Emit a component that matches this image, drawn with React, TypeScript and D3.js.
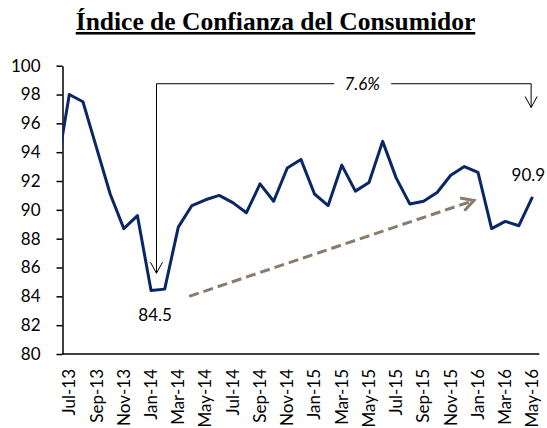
import React, { useEffect, useRef } from 'react';
import * as d3 from 'd3';

// monthly index values (Jun-13 sits left of the axis and gets clipped)
const months = [
  'Jun-13', 'Jul-13', 'Aug-13', 'Sep-13', 'Oct-13', 'Nov-13', 'Dec-13',
  'Jan-14', 'Feb-14', 'Mar-14', 'Apr-14', 'May-14', 'Jun-14', 'Jul-14', 'Aug-14', 'Sep-14', 'Oct-14', 'Nov-14', 'Dec-14',
  'Jan-15', 'Feb-15', 'Mar-15', 'Apr-15', 'May-15', 'Jun-15', 'Jul-15', 'Aug-15', 'Sep-15', 'Oct-15', 'Nov-15', 'Dec-15',
  'Jan-16', 'Feb-16', 'Mar-16', 'Apr-16', 'May-16',
];
const values = [
  92.3, 98.0, 97.5, 94.3, 91.1, 88.7, 89.6,
  84.4, 84.5, 88.8, 90.3, 90.7, 91.0, 90.5, 89.8, 91.8, 90.6, 92.9, 93.5,
  91.1, 90.3, 93.1, 91.3, 91.9, 94.75, 92.2, 90.4, 90.6, 91.2, 92.4, 93.0,
  92.6, 88.7, 89.2, 88.9, 90.9,
];
const xTickLabels = [
  'Jul-13', 'Sep-13', 'Nov-13', 'Jan-14', 'Mar-14', 'May-14', 'Jul-14', 'Sep-14', 'Nov-14',
  'Jan-15', 'Mar-15', 'May-15', 'Jul-15', 'Sep-15', 'Nov-15', 'Jan-16', 'Mar-16', 'May-16',
];
const yTicks = [80, 82, 84, 86, 88, 90, 92, 94, 96, 98, 100];

// annotations, in data units (month index, index value)
const change = { from: 7.4, to: 34.9, top: 98.75, fromTip: 85.6, toTip: 97.1, label: '7.6%', at: 22.35 };
const trend = { x1: 9.8, y1: 84.0, x2: 30.7, y2: 90.65 };
const pointLabels = [
  { text: '84.5', x: 7.3, y: 82.3 },
  { text: '90.9', x: 34.7, y: 92.0 },
];

const W = 547;
const H = 428;
const numFont = 'Lato, "Open Sans", sans-serif';

export default function App() {
  const ref = useRef<SVGSVGElement>(null);

  useEffect(() => {
    const svg = d3.select(ref.current);
    svg.selectAll('*').remove();

    const x = d3.scaleLinear().domain([0.5, 35.5]).range([62.5, 539.3]);
    const y = d3.scaleLinear().domain([80, 100]).range([354, 65.7]);

    svg.append('rect').attr('width', W).attr('height', H).attr('fill', '#fff');

    svg
      .append('text')
      .attr('x', 275.5)
      .attr('y', 30)
      .attr('text-anchor', 'middle')
      .attr('font-family', '"Liberation Serif", "Times New Roman", serif')
      .attr('font-weight', 'bold')
      .attr('font-size', 25.5)
      .attr('text-decoration', 'underline')
      .text('Índice de Confianza del Consumidor');

    // y axis
    const yAxis = svg
      .append('g')
      .attr('transform', `translate(${x.range()[0]},0)`)
      .call(d3.axisLeft(y).tickValues(yTicks).tickSize(6).tickPadding(16).tickSizeOuter(0));
    yAxis.select('.domain').attr('stroke-width', 1.5);
    yAxis.selectAll('line').attr('stroke-width', 1.5);
    yAxis.selectAll('text').attr('font-family', numFont).attr('font-size', 17).attr('fill', '#000');

    // x axis
    svg
      .append('line')
      .attr('x1', x.range()[0])
      .attr('x2', x.range()[1])
      .attr('y1', y(80))
      .attr('y2', y(80))
      .attr('stroke', '#000')
      .attr('stroke-width', 1.5);

    svg
      .append('g')
      .selectAll('text')
      .data(xTickLabels)
      .join('text')
      .attr('transform', (d) => `translate(${x(months.indexOf(d))},369) rotate(-90)`)
      .attr('text-anchor', 'end')
      .attr('dy', '0.35em')
      .attr('font-family', numFont)
      .attr('font-size', 17)
      .text((d) => d);

    // series, clipped to the plot
    svg
      .append('clipPath')
      .attr('id', 'plot-clip')
      .append('rect')
      .attr('x', x.range()[0])
      .attr('y', 0)
      .attr('width', x.range()[1] - x.range()[0])
      .attr('height', H);

    const line = d3
      .line<number>()
      .x((d, i) => x(i))
      .y((d) => y(d));

    svg
      .append('path')
      .datum(values)
      .attr('clip-path', 'url(#plot-clip)')
      .attr('fill', 'none')
      .attr('stroke', '#082764')
      .attr('stroke-width', 3)
      .attr('stroke-linejoin', 'round')
      .attr('d', line);

    // change bracket
    const g = svg.append('g').attr('fill', 'none').attr('stroke', '#000').attr('stroke-width', 1);
    const top = y(change.top);
    const lx = x(change.from);
    const rx = x(change.to);
    const gapL = x(change.at) - 26;
    const gapR = x(change.at) + 31;
    g.append('path').attr('d', `M${lx},${y(change.fromTip)}V${top}H${gapL}`);
    g.append('path').attr('d', `M${gapR},${top}H${rx}V${y(change.toTip)}`);
    const downHead = (tx: number, ty: number) => `M${tx - 6},${ty - 11}L${tx},${ty}L${tx + 6},${ty - 11}`;
    g.append('path').attr('d', downHead(lx, y(change.fromTip)));
    g.append('path').attr('d', downHead(rx, y(change.toTip)));

    svg
      .append('text')
      .attr('x', x(change.at) + 2)
      .attr('y', top + 6)
      .attr('text-anchor', 'middle')
      .attr('font-family', numFont)
      .attr('font-style', 'italic')
      .attr('font-size', 17)
      .text(change.label);

    // trend arrow
    const tx1 = x(trend.x1);
    const ty1 = y(trend.y1);
    const tx2 = x(trend.x2);
    const ty2 = y(trend.y2);
    const ang = Math.atan2(ty2 - ty1, tx2 - tx1);
    const wing = 14;
    const spread = 0.5;
    svg
      .append('path')
      .attr('d', `M${tx1},${ty1}L${tx2},${ty2}`)
      .attr('stroke', '#8B7B6B')
      .attr('stroke-width', 3)
      .attr('stroke-dasharray', '10 5')
      .attr('fill', 'none');
    svg
      .append('path')
      .attr(
        'd',
        `M${tx2 - wing * Math.cos(ang - spread)},${ty2 - wing * Math.sin(ang - spread)}` +
          `L${tx2},${ty2}` +
          `L${tx2 - wing * Math.cos(ang + spread)},${ty2 - wing * Math.sin(ang + spread)}`,
      )
      .attr('stroke', '#8B7B6B')
      .attr('stroke-width', 3)
      .attr('fill', 'none');

    svg
      .append('g')
      .selectAll('text')
      .data(pointLabels)
      .join('text')
      .attr('x', (d) => x(d.x))
      .attr('y', (d) => y(d.y))
      .attr('text-anchor', 'middle')
      .attr('font-family', numFont)
      .attr('font-size', 17)
      .text((d) => d.text);
  }, []);

  return (
    <svg
      ref={ref}
      width={W}
      height={H}
      style={{ position: 'absolute', left: 0, top: 0, display: 'block' }}
    />
  );
}
